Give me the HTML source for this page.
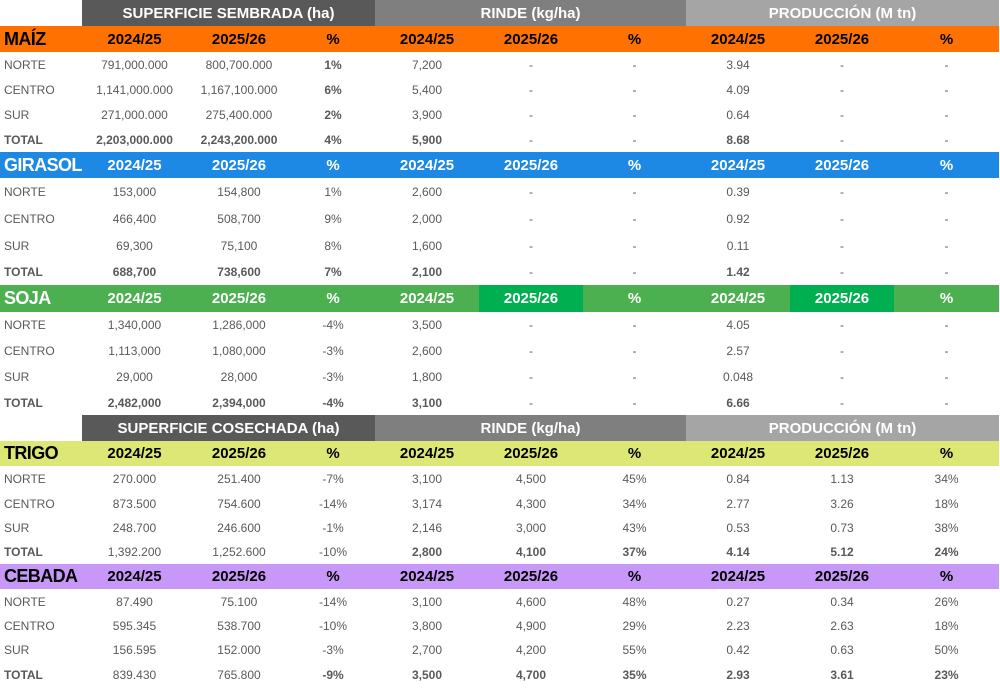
<!DOCTYPE html>
<html><head><meta charset="utf-8"><style>
body{margin:0;background:#fff;width:1000px;height:689px;overflow:hidden;font-family:"Liberation Sans",sans-serif}
table{border-collapse:collapse;table-layout:fixed;position:absolute;left:0;top:0;width:999px}
td{padding:0;text-align:center;font-size:12px;color:#595959;white-space:nowrap;overflow:hidden}
td.l{text-align:left;padding-left:4px}
.b{font-weight:bold}
.n{font-weight:normal}
tr.sh td{font-size:15px;font-weight:bold;color:#fff}
tr.h td{font-size:15px;font-weight:bold;color:#000}
tr.h td.c{font-size:18px;text-align:left;padding-left:4px;letter-spacing:-0.6px;overflow:visible}
tr.w td{color:#fff}
.g1{background:#595959}.g2{background:#7f7f7f}.g3{background:#a5a5a5}
.or{background:#ff7100}.bl{background:#1e88e5}.gr{background:#4caf50}.gd{background:#00b050}.ye{background:#dce775}.pu{background:#c898f8}
</style></head><body>
<table>
<colgroup><col style="width:82px"><col style="width:105px"><col style="width:104px"><col style="width:84px"><col style="width:104px"><col style="width:104px"><col style="width:103px"><col style="width:104px"><col style="width:104px"><col style="width:105px"></colgroup>
<tr class="sh" style="height:26px"><td></td><td colspan="3" class="g1">SUPERFICIE SEMBRADA (ha)</td><td colspan="3" class="g2">RINDE (kg/ha)</td><td colspan="3" class="g3">PRODUCCIÓN (M tn)</td></tr>
<tr class="h or" style="height:26px"><td class="c">MAÍZ</td><td>2024/25</td><td>2025/26</td><td>%</td><td>2024/25</td><td>2025/26</td><td>%</td><td>2024/25</td><td>2025/26</td><td>%</td></tr>
<tr style="height:25px"><td class="l">NORTE</td><td>791,000.000</td><td>800,700.000</td><td class="b">1%</td><td>7,200</td><td>-</td><td>-</td><td>3.94</td><td>-</td><td>-</td></tr>
<tr style="height:25px"><td class="l">CENTRO</td><td>1,141,000.000</td><td>1,167,100.000</td><td class="b">6%</td><td>5,400</td><td>-</td><td>-</td><td>4.09</td><td>-</td><td>-</td></tr>
<tr style="height:25px"><td class="l">SUR</td><td>271,000.000</td><td>275,400.000</td><td class="b">2%</td><td>3,900</td><td>-</td><td>-</td><td>0.64</td><td>-</td><td>-</td></tr>
<tr style="height:25px" class="b"><td class="l">TOTAL</td><td>2,203,000.000</td><td>2,243,200.000</td><td>4%</td><td>5,900</td><td class="n">-</td><td class="n">-</td><td>8.68</td><td class="n">-</td><td class="n">-</td></tr>
<tr class="h w bl" style="height:26px"><td class="c">GIRASOL</td><td>2024/25</td><td>2025/26</td><td>%</td><td>2024/25</td><td>2025/26</td><td>%</td><td>2024/25</td><td>2025/26</td><td>%</td></tr>
<tr style="height:27px"><td class="l">NORTE</td><td>153,000</td><td>154,800</td><td>1%</td><td>2,600</td><td>-</td><td>-</td><td>0.39</td><td>-</td><td>-</td></tr>
<tr style="height:27px"><td class="l">CENTRO</td><td>466,400</td><td>508,700</td><td>9%</td><td>2,000</td><td>-</td><td>-</td><td>0.92</td><td>-</td><td>-</td></tr>
<tr style="height:27px"><td class="l">SUR</td><td>69,300</td><td>75,100</td><td>8%</td><td>1,600</td><td>-</td><td>-</td><td>0.11</td><td>-</td><td>-</td></tr>
<tr style="height:26px" class="b"><td class="l">TOTAL</td><td>688,700</td><td>738,600</td><td>7%</td><td>2,100</td><td class="n">-</td><td class="n">-</td><td>1.42</td><td class="n">-</td><td class="n">-</td></tr>
<tr class="h w gr" style="height:27px"><td class="c">SOJA</td><td>2024/25</td><td>2025/26</td><td>%</td><td>2024/25</td><td class="gd">2025/26</td><td>%</td><td>2024/25</td><td class="gd">2025/26</td><td>%</td></tr>
<tr style="height:26px"><td class="l">NORTE</td><td>1,340,000</td><td>1,286,000</td><td>-4%</td><td>3,500</td><td>-</td><td>-</td><td>4.05</td><td>-</td><td>-</td></tr>
<tr style="height:26px"><td class="l">CENTRO</td><td>1,113,000</td><td>1,080,000</td><td>-3%</td><td>2,600</td><td>-</td><td>-</td><td>2.57</td><td>-</td><td>-</td></tr>
<tr style="height:26px"><td class="l">SUR</td><td>29,000</td><td>28,000</td><td>-3%</td><td>1,800</td><td>-</td><td>-</td><td>0.048</td><td>-</td><td>-</td></tr>
<tr style="height:25px" class="b"><td class="l">TOTAL</td><td>2,482,000</td><td>2,394,000</td><td>-4%</td><td>3,100</td><td class="n">-</td><td class="n">-</td><td>6.66</td><td class="n">-</td><td class="n">-</td></tr>
<tr class="sh" style="height:26px"><td></td><td colspan="3" class="g1">SUPERFICIE COSECHADA (ha)</td><td colspan="3" class="g2">RINDE (kg/ha)</td><td colspan="3" class="g3">PRODUCCIÓN (M tn)</td></tr>
<tr class="h ye" style="height:25px"><td class="c">TRIGO</td><td>2024/25</td><td>2025/26</td><td>%</td><td>2024/25</td><td>2025/26</td><td>%</td><td>2024/25</td><td>2025/26</td><td>%</td></tr>
<tr style="height:25px"><td class="l">NORTE</td><td>270.000</td><td>251.400</td><td>-7%</td><td>3,100</td><td>4,500</td><td>45%</td><td>0.84</td><td>1.13</td><td>34%</td></tr>
<tr style="height:25px"><td class="l">CENTRO</td><td>873.500</td><td>754.600</td><td>-14%</td><td>3,174</td><td>4,300</td><td>34%</td><td>2.77</td><td>3.26</td><td>18%</td></tr>
<tr style="height:24px"><td class="l">SUR</td><td>248.700</td><td>246.600</td><td>-1%</td><td>2,146</td><td>3,000</td><td>43%</td><td>0.53</td><td>0.73</td><td>38%</td></tr>
<tr style="height:24px"><td class="l b">TOTAL</td><td>1,392.200</td><td>1,252.600</td><td>-10%</td><td class="b">2,800</td><td class="b">4,100</td><td class="b">37%</td><td class="b">4.14</td><td class="b">5.12</td><td class="b">24%</td></tr>
<tr class="h pu" style="height:25px"><td class="c">CEBADA</td><td>2024/25</td><td>2025/26</td><td>%</td><td>2024/25</td><td>2025/26</td><td>%</td><td>2024/25</td><td>2025/26</td><td>%</td></tr>
<tr style="height:25px"><td class="l">NORTE</td><td>87.490</td><td>75.100</td><td>-14%</td><td>3,100</td><td>4,600</td><td>48%</td><td>0.27</td><td>0.34</td><td>26%</td></tr>
<tr style="height:24px"><td class="l">CENTRO</td><td>595.345</td><td>538.700</td><td>-10%</td><td>3,800</td><td>4,900</td><td>29%</td><td>2.23</td><td>2.63</td><td>18%</td></tr>
<tr style="height:24px"><td class="l">SUR</td><td>156.595</td><td>152.000</td><td>-3%</td><td>2,700</td><td>4,200</td><td>55%</td><td>0.42</td><td>0.63</td><td>50%</td></tr>
<tr style="height:25px"><td class="l b">TOTAL</td><td>839.430</td><td>765.800</td><td class="b">-9%</td><td class="b">3,500</td><td class="b">4,700</td><td class="b">35%</td><td class="b">2.93</td><td class="b">3.61</td><td class="b">23%</td></tr>
</table>
</body></html>
